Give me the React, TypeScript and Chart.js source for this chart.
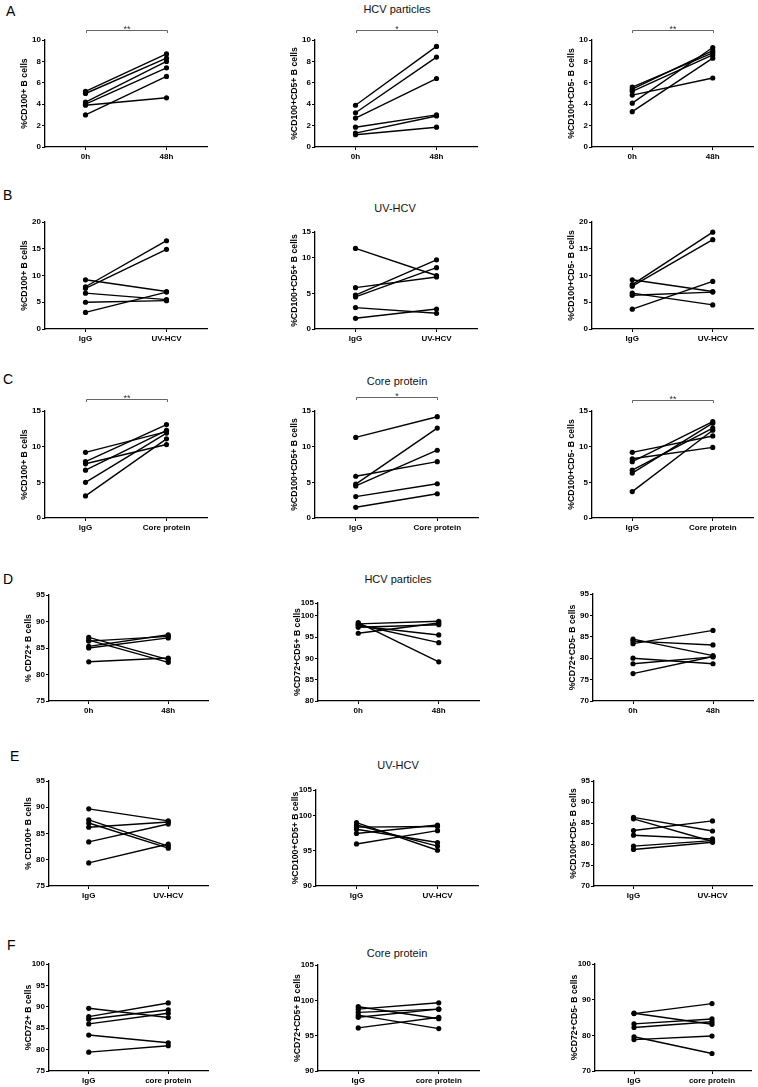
import { useEffect, useRef } from "react";
import { Chart, registerables } from "chart.js";
Chart.register(...registerables);

const FONT = '"Liberation Sans", Arial, Helvetica, sans-serif';

// ---------- categories ----------
const catsHCV = ["0h", "48h"];
const catsUV = ["IgG", "UV-HCV"];
const catsCore = ["IgG", "Core protein"];
const catsCoreLc = ["IgG", "core protein"];

// ---------- series values (one donor per index) ----------
const A1_pre = [5.2, 5.0, 4.2, 4.0, 3.9, 3.0];
const A1_post = [8.7, 8.3, 8.0, 7.4, 4.6, 6.6];
const A2_pre = [3.9, 3.2, 2.7, 1.85, 1.3, 1.15];
const A2_post = [9.4, 8.4, 6.4, 3.0, 2.9, 1.85];
const A3_pre = [5.6, 5.4, 5.2, 4.85, 4.1, 3.3];
const A3_post = [8.8, 9.0, 8.6, 6.45, 9.3, 8.3];

const B1_pre = [9.2, 7.9, 7.6, 6.7, 5.0, 3.1];
const B1_post = [7.0, 16.5, 14.9, 5.5, 5.3, 6.9];
const B2_pre = [11.3, 5.8, 4.75, 4.5, 3.0, 1.5];
const B2_post = [7.5, 7.3, 9.7, 8.6, 2.2, 2.8];
const B3_pre = [9.2, 8.3, 8.0, 6.7, 6.3, 3.7];
const B3_post = [7.0, 18.1, 16.7, 4.5, 6.9, 8.9];

const C1_pre = [9.2, 7.9, 7.6, 6.7, 5.0, 3.1];
const C1_post = [12.1, 13.1, 10.3, 12.3, 11.9, 11.1];
const C2_pre = [11.3, 5.85, 4.75, 4.5, 3.0, 1.5];
const C2_post = [14.2, 7.9, 12.6, 9.5, 4.8, 3.4];
const C3_pre = [9.2, 8.3, 7.9, 6.7, 6.3, 3.7];
const C3_post = [11.5, 9.9, 13.5, 12.6, 13.3, 12.3];

const D1_pre = [87.0, 86.5, 86.3, 85.3, 85.0, 82.4];
const D1_post = [82.8, 82.3, 87.2, 87.5, 86.9, 83.1];
const D2_pre = [98.4, 98.1, 97.9, 97.6, 97.3, 95.9];
const D2_post = [89.2, 98.7, 93.7, 95.5, 97.9, 98.3];
const D3_pre = [84.45, 84.0, 83.4, 80.0, 78.7, 76.4];
const D3_post = [80.6, 83.1, 86.5, 78.7, 80.3, 80.4];

const E1_pre = [89.7, 87.6, 87.0, 86.2, 83.4, 79.4];
const E1_post = [87.4, 82.6, 82.2, 87.2, 86.8, 83.0];
const E2_pre = [99.05, 98.7, 98.4, 98.1, 97.5, 96.0];
const E2_post = [95.1, 95.7, 98.5, 96.2, 98.7, 97.9];
const E3_pre = [86.35, 86.0, 83.2, 82.1, 79.5, 78.7];
const E3_post = [83.1, 80.6, 85.5, 81.2, 80.8, 80.4];

const F1_pre = [89.65, 87.7, 87.1, 86.0, 83.4, 79.4];
const F1_post = [87.5, 90.9, 89.3, 88.5, 81.6, 80.9];
const F2_pre = [99.1, 98.75, 98.3, 97.9, 97.6, 96.1];
const F2_post = [97.4, 99.65, 98.75, 96.0, 98.75, 97.6];
const F3_pre = [86.1, 86.2, 83.2, 82.2, 79.6, 78.8];
const F3_post = [88.9, 83.1, 84.6, 83.8, 74.9, 79.8];

// ---------- tick values / labels ----------
const ticks0_10 = [0, 2, 4, 6, 8, 10];
const ticks0_20 = [0, 5, 10, 15, 20];
const ticks0_15 = [0, 5, 10, 15];
const ticksB2 = [0, 5, 10, 13.6];
const labelsB2 = ["0", "5", "10", "15"];
const ticks75_95 = [75, 80, 85, 90, 95];
const ticksD2 = [80, 85, 90, 95, 100, 103];
const labelsD2 = ["80", "85", "90", "95", "100", "105"];
const ticks70_95 = [70, 75, 80, 85, 90, 95];
const ticksE2 = [90, 95, 100, 103.7];
const labelsE2 = ["90", "95", "100", "105"];
const ticks75_100 = [75, 80, 85, 90, 95, 100];
const ticks90_105 = [90, 95, 100, 105];
const ticks70_100 = [70, 80, 90, 100];

// ---------- text ----------
const letters = [
  { t: "A", x: 6, cy: 10.5 },
  { t: "B", x: 3, cy: 195 },
  { t: "C", x: 3, cy: 378.5 },
  { t: "D", x: 3, cy: 579 },
  { t: "E", x: 10, cy: 756 },
  { t: "F", x: 7, cy: 945 },
];
const rowTitles = [
  { t: "HCV particles", cx: 397, cy: 9 },
  { t: "UV-HCV", cx: 395, cy: 208 },
  { t: "Core protein", cx: 397, cy: 381 },
  { t: "HCV particles", cx: 398, cy: 579 },
  { t: "UV-HCV", cx: 398, cy: 765 },
  { t: "Core protein", cx: 397, cy: 953 },
];

type Panel = {
  id: string;
  cats: string[];
  pre: number[];
  post: number[];
  yTitle: string;
  ticks: number[];
  labels?: string[];
  ax: number;
  ax2: number;
  top: number;
  bot: number;
  sig?: string;
  sigGap?: number;
};

const panels: Panel[] = [
  { id: "A1", cats: catsHCV, pre: A1_pre, post: A1_post, yTitle: "%CD100+ B cells", ticks: ticks0_10, ax: 45, ax2: 207, top: 40, bot: 147, sig: "**", sigGap: 10 },
  { id: "A2", cats: catsHCV, pre: A2_pre, post: A2_post, yTitle: "%CD100+CD5+ B cells", ticks: ticks0_10, ax: 315, ax2: 477, top: 40, bot: 147, sig: "*", sigGap: 10 },
  { id: "A3", cats: catsHCV, pre: A3_pre, post: A3_post, yTitle: "%CD100+CD5- B cells", ticks: ticks0_10, ax: 592, ax2: 753, top: 40, bot: 147, sig: "**", sigGap: 10 },

  { id: "B1", cats: catsUV, pre: B1_pre, post: B1_post, yTitle: "%CD100+ B cells", ticks: ticks0_20, ax: 45, ax2: 207, top: 222, bot: 329 },
  { id: "B2", cats: catsUV, pre: B2_pre, post: B2_post, yTitle: "%CD100+CD5+ B cells", ticks: ticksB2, labels: labelsB2, ax: 315, ax2: 477, top: 232, bot: 329 },
  { id: "B3", cats: catsUV, pre: B3_pre, post: B3_post, yTitle: "%CD100+CD5- B cells", ticks: ticks0_20, ax: 592, ax2: 753, top: 222, bot: 329 },

  { id: "C1", cats: catsCore, pre: C1_pre, post: C1_post, yTitle: "%CD100+ B cells", ticks: ticks0_15, ax: 45, ax2: 207, top: 411, bot: 518, sig: "**", sigGap: 12.5 },
  { id: "C2", cats: catsCore, pre: C2_pre, post: C2_post, yTitle: "%CD100+CD5+ B cells", ticks: ticks0_15, ax: 315, ax2: 478, top: 411, bot: 518, sig: "*", sigGap: 14 },
  { id: "C3", cats: catsCore, pre: C3_pre, post: C3_post, yTitle: "%CD100+CD5- B cells", ticks: ticks0_15, ax: 592, ax2: 753, top: 411, bot: 518, sig: "**", sigGap: 11 },

  { id: "D1", cats: catsHCV, pre: D1_pre, post: D1_post, yTitle: "% CD72+ B cells", ticks: ticks75_95, ax: 49, ax2: 208, top: 595, bot: 701 },
  { id: "D2", cats: catsHCV, pre: D2_pre, post: D2_post, yTitle: "%CD72+CD5+ B cells", ticks: ticksD2, labels: labelsD2, ax: 318, ax2: 479, top: 603, bot: 701 },
  { id: "D3", cats: catsHCV, pre: D3_pre, post: D3_post, yTitle: "%CD72+CD5- B cells", ticks: ticks70_95, ax: 593, ax2: 753, top: 594, bot: 701 },

  { id: "E1", cats: catsUV, pre: E1_pre, post: E1_post, yTitle: "% CD100+ B cells", ticks: ticks75_95, ax: 49, ax2: 208, top: 781, bot: 886 },
  { id: "E2", cats: catsUV, pre: E2_pre, post: E2_post, yTitle: "%CD100+CD5+ B cells", ticks: ticksE2, labels: labelsE2, ax: 316, ax2: 478, top: 790, bot: 886 },
  { id: "E3", cats: catsUV, pre: E3_pre, post: E3_post, yTitle: "%CD100+CD5- B cells", ticks: ticks70_95, ax: 594, ax2: 752, top: 781, bot: 886 },

  { id: "F1", cats: catsCoreLc, pre: F1_pre, post: F1_post, yTitle: "%CD72+ B cells", ticks: ticks75_100, ax: 49, ax2: 208, top: 964, bot: 1071 },
  { id: "F2", cats: catsCoreLc, pre: F2_pre, post: F2_post, yTitle: "%CD72+CD5+ B cells", ticks: ticks90_105, ax: 318, ax2: 479, top: 965, bot: 1071 },
  { id: "F3", cats: catsCoreLc, pre: F3_pre, post: F3_post, yTitle: "%CD72+CD5- B cells", ticks: ticks70_100, ax: 595, ax2: 751, top: 964, bot: 1071 },
];

// canvas margins around the plot frame
const L = 45;
const R = 5;
const T = 22;
const B = 18;
const TITLE_FONT = 8.7;

function makeChart(canvas: HTMLCanvasElement, p: Panel) {
  const lbls = p.labels ?? p.ticks.map((v) => String(v));
  const bracket = {
    id: "bracket" + p.id,
    afterDraw(chart: any) {
      if (!p.sig) return;
      const { ctx, chartArea } = chart;
      const x = chart.scales.x;
      const x0 = Math.round(x.getPixelForValue(0)) + 0.5;
      const x1 = Math.round(x.getPixelForValue(1)) + 0.5;
      const y = Math.round(chartArea.top - (p.sigGap ?? 10)) + 0.5;
      ctx.save();
      ctx.strokeStyle = "#666";
      ctx.lineWidth = 1;
      ctx.beginPath();
      ctx.moveTo(x0, y + 2.5);
      ctx.lineTo(x0, y);
      ctx.lineTo(x1, y);
      ctx.lineTo(x1, y + 2.5);
      ctx.stroke();
      ctx.fillStyle = "#333";
      ctx.font = `9px ${FONT}`;
      ctx.textAlign = "center";
      ctx.textBaseline = "alphabetic";
      ctx.fillText(p.sig, (x0 + x1) / 2, y + 1);
      ctx.restore();
    },
  };
  const datasets = p.pre.map((v, i) => ({
    data: [v, p.post[i]],
    borderColor: "#000",
    backgroundColor: "#000",
    pointBackgroundColor: "#000",
    pointBorderColor: "#000",
    pointBorderWidth: 0,
    pointRadius: 2.6,
    borderWidth: 1.4,
    tension: 0,
    fill: false,
  }));
  const axisGrid = {
    display: true,
    drawOnChartArea: false,
    drawTicks: true,
    tickLength: 3,
    color: "#000",
    lineWidth: 1,
    offset: false,
  };
  return new Chart(canvas, {
    type: "line",
    data: { labels: p.cats, datasets },
    plugins: [bracket],
    options: {
      animation: false,
      responsive: false,
      maintainAspectRatio: false,
      events: [],
      layout: { padding: { top: T, right: R, left: 0, bottom: 0 } },
      plugins: { legend: { display: false }, tooltip: { enabled: false } },
      scales: {
        x: {
          type: "category",
          offset: true,
          grid: axisGrid,
          border: { display: true, color: "#000", width: 1.3 },
          ticks: {
            color: "#000",
            font: { family: FONT, size: 8, weight: "bold" },
            padding: 2,
            maxRotation: 0,
            autoSkip: false,
          },
          afterFit: (s: any) => {
            s.height = B;
          },
        },
        y: {
          type: "linear",
          min: p.ticks[0],
          max: p.ticks[p.ticks.length - 1],
          afterBuildTicks: (s: any) => {
            s.ticks = p.ticks.map((v) => ({ value: v }));
          },
          grid: axisGrid,
          border: { display: true, color: "#000", width: 1.3 },
          ticks: {
            color: "#000",
            font: { family: FONT, size: 8, weight: "bold" },
            padding: 1,
            callback: (_v: any, i: number) => lbls[i],
          },
          title: {
            display: true,
            text: p.yTitle,
            color: "#000",
            font: { family: FONT, size: TITLE_FONT, weight: "bold" },
            padding: { top: L - 20 - (TITLE_FONT * 1.2) / 2, bottom: 0 },
          },
          afterFit: (s: any) => {
            s.width = L;
          },
        },
      },
    } as any,
  });
}

export default function App() {
  const refs = useRef<(HTMLCanvasElement | null)[]>([]);
  useEffect(() => {
    const charts = panels.map((p, i) => makeChart(refs.current[i] as HTMLCanvasElement, p));
    return () => charts.forEach((c) => c.destroy());
  }, []);
  return (
    <div
      style={{
        position: "absolute",
        left: 0,
        top: 0,
        width: 758,
        height: 1087,
        background: "#fff",
        overflow: "hidden",
        fontFamily: FONT,
      }}
    >
      {letters.map((l) => (
        <div
          key={l.t}
          style={{
            position: "absolute",
            left: l.x,
            top: l.cy - 7,
            fontSize: 14,
            lineHeight: "14px",
            color: "#000",
          }}
        >
          {l.t}
        </div>
      ))}
      {rowTitles.map((t, i) => (
        <div
          key={i}
          style={{
            position: "absolute",
            left: t.cx,
            top: t.cy - 5.5,
            transform: "translateX(-50%)",
            whiteSpace: "nowrap",
            fontSize: 11,
            lineHeight: "11px",
            color: "#111",
          }}
        >
          {t.t}
        </div>
      ))}
      {panels.map((p, i) => {
        const w = L + (p.ax2 - p.ax) + R;
        const h = T + (p.bot - p.top) + B;
        return (
          <canvas
            key={p.id}
            ref={(el) => {
              refs.current[i] = el;
            }}
            width={w}
            height={h}
            style={{ position: "absolute", left: p.ax - L, top: p.top - T, width: w, height: h }}
          />
        );
      })}
    </div>
  );
}
